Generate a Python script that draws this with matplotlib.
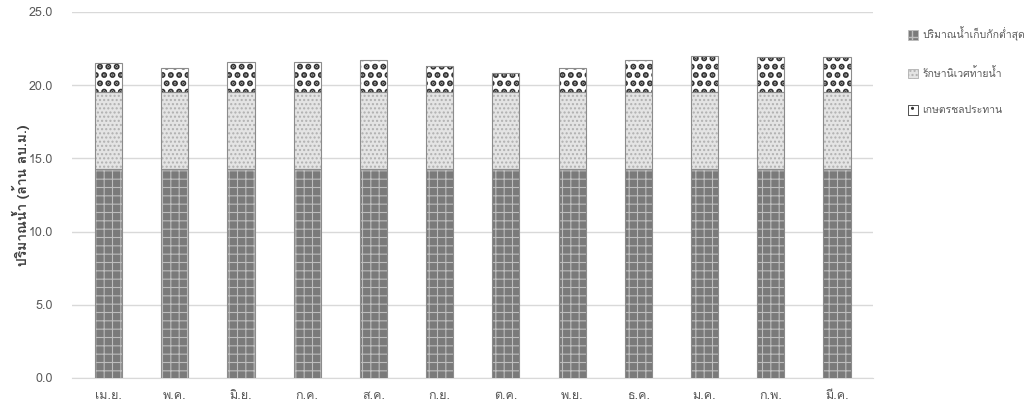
import matplotlib
matplotlib.use('Agg')
import matplotlib.pyplot as plt
from matplotlib import font_manager
from matplotlib.ft2font import FT2Font
from matplotlib.patches import Patch
import numpy as np

months = ['เม.ย.', 'พ.ค.', 'มิ.ย.', 'ก.ค.', 'ส.ค.', 'ก.ย.', 'ต.ค.', 'พ.ย.', 'ธ.ค.', 'ม.ค.', 'ก.พ.', 'มี.ค.']
min_storage = [14.3, 14.3, 14.3, 14.3, 14.3, 14.3, 14.3, 14.3, 14.3, 14.3, 14.3, 14.3]
ecology = [5.2, 5.2, 5.2, 5.2, 5.2, 5.2, 5.2, 5.2, 5.2, 5.2, 5.2, 5.2]
irrigation = [2.0, 1.7, 2.05, 2.05, 2.25, 1.8, 1.3, 1.7, 2.25, 2.5, 2.4, 2.4]
series_names = ['ปริมาณน้ำเก็บกักต่ำสุด', 'รักษานิเวศท้ายน้ำ', 'เกษตรชลประทาน']
ylabel = 'ปริมาณน้ำ (ล้าน ลบ.ม.)'


def find_thai_font():
    # look for any installed font that has Thai glyphs
    for f in font_manager.fontManager.ttflist:
        try:
            if ord('ก') in FT2Font(f.fname).get_charmap():
                return f.name
        except Exception:
            pass
    return None


thai = find_thai_font()
families = ([thai] if thai else []) + ['DejaVu Sans']
plt.rcParams['font.family'] = families

fig = plt.figure(figsize=(10.3, 4.09), dpi=100)
ax = fig.add_axes([0.07, 0.0758, 0.778, 0.895])

x = np.arange(len(months))
w = 0.41
styles = [
    dict(face='#7a7a7a', hatch='++', hcol='#bdbdbd', lw=0.8),
    dict(face='#e4e4e4', hatch='....', hcol='#b0b0b0', lw=1.0),
    dict(face='white', hatch='..', hcol='#333333', lw=3.0),
]
bottom = np.zeros(len(months))
handles = []
for vals, st, name in zip([min_storage, ecology, irrigation], styles, series_names):
    plt.rcParams['hatch.linewidth'] = st['lw']
    bars = ax.bar(x, vals, w, bottom=bottom, color=st['face'], hatch=st['hatch'],
                  edgecolor=st['hcol'], linewidth=0, zorder=3)
    for p in bars:
        if hasattr(p, 'set_hatch_linewidth'):
            p.set_hatch_linewidth(st['lw'])
    ax.bar(x, vals, w, bottom=bottom, fill=False, edgecolor='#8c8c8c', linewidth=0.8, zorder=4)
    hp = Patch(facecolor=st['face'], hatch=st['hatch'], edgecolor=st['hcol'],
               linewidth=0.6, label=name)
    if hasattr(hp, 'set_hatch_linewidth'):
        hp.set_hatch_linewidth(min(st['lw'], 1.5))
    handles.append(hp)
    bottom += np.array(vals)

plt.rcParams['hatch.linewidth'] = 1.0
ax.set_ylim(0, 25)
ax.set_xlim(-0.55, len(months) - 0.45)
ax.set_yticks(np.arange(0, 25.1, 5))
ax.set_yticklabels(['%.1f' % v for v in np.arange(0, 25.1, 5)])
ax.set_xticks(x)
ax.set_xticklabels(months)
ax.tick_params(length=0, colors='#595959', labelsize=9)
ax.tick_params(axis='x', pad=9)
ax.tick_params(axis='y', pad=14)
ax.grid(axis='y', color='#d9d9d9', linewidth=1, zorder=0)
for s in ['top', 'right', 'left']:
    ax.spines[s].set_visible(False)
ax.spines['bottom'].set_color('#d9d9d9')
ax.set_ylabel(ylabel, fontsize=10, fontweight='bold', color='#404040')
ax.yaxis.set_label_coords(-0.052, 0.5)

fig.legend(handles=handles, loc='upper left', bbox_to_anchor=(0.872, 0.958), frameon=False,
           fontsize=7.5, labelcolor='#595959', handlelength=1.0, handleheight=1.0,
           labelspacing=2.5, handletextpad=0.4)

fig.savefig('out.png', dpi=100)
